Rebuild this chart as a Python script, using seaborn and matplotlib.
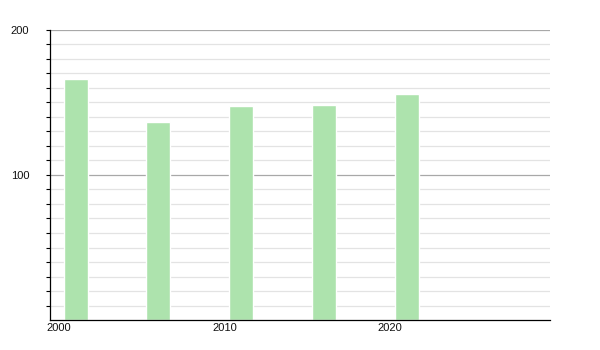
import matplotlib
matplotlib.use("Agg")
import matplotlib.pyplot as plt
import seaborn as sns
import pandas as pd
import numpy as np

years = [2001, 2006, 2011, 2016, 2021]
values = [166, 136.5, 147.5, 148.3, 156]
xticks = [2000, 2010, 2020]
yticks = [100, 200]

sns.set_style("white")
plt.rcParams['font.family'] = ['Liberation Sans', 'DejaVu Sans']

df = pd.DataFrame({"year": years, "value": values})

fig = plt.figure(figsize=(6, 3.5), dpi=100)
ax = fig.add_axes([50/600, 30/350, 500/600, 290/350])

# minor gridlines every 10
for v in np.arange(10, 200, 10):
    if v % 100 != 0:
        ax.axhline(v, color="#e3e3e3", lw=0.9, zorder=0)
ax.axhline(100, color="#a8a8a8", lw=0.9, zorder=0)
ax.axhline(200, color="#a8a8a8", lw=0.9, zorder=0)

sns.barplot(data=df, x="year", y="value", native_scale=True, width=0.29,
            color="#ade3ad", saturation=1, ax=ax, zorder=2)

ax.set_xlim(1999.45, 2029.65)
ax.set_ylim(0, 200)
ax.set_xticks(xticks)
ax.set_xticklabels([str(t) for t in xticks])
ax.set_yticks(yticks)
ax.set_yticklabels([str(t) for t in yticks])
ax.set_yticks(np.arange(10, 200, 10), minor=True)
ax.tick_params(axis="y", which="both", left=True, direction="out", length=3,
               width=0.8, color="black", labelsize=8, pad=12, labelcolor="#111111")
ax.tick_params(axis="x", which="both", bottom=False, length=0, labelsize=8,
               pad=2, labelcolor="#111111")
ax.set_xlabel("")
ax.set_ylabel("")

for s in ["top", "right"]:
    ax.spines[s].set_visible(False)
ax.spines["left"].set_color("black")
ax.spines["bottom"].set_color("black")
ax.spines["left"].set_linewidth(0.9)
ax.spines["bottom"].set_linewidth(0.9)

fig.savefig("out.png", dpi=100)
